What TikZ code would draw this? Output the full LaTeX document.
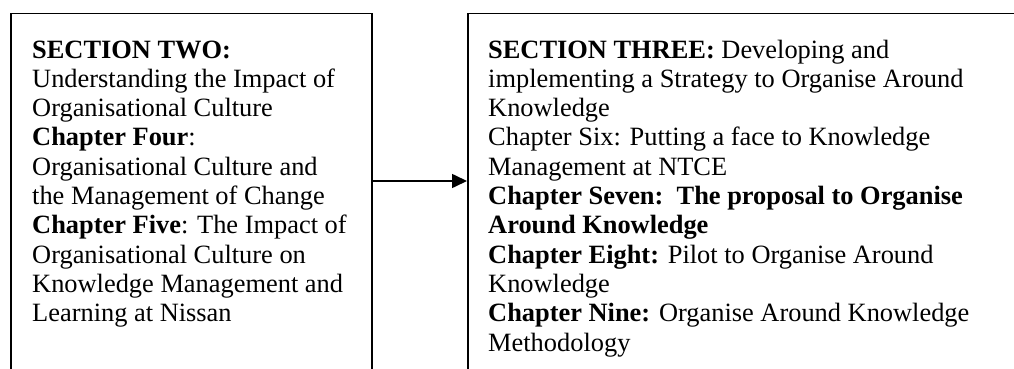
\documentclass[tikz,border=0pt]{standalone}
\usepackage{fontspec}
\setmainfont{Liberation Serif}
\usetikzlibrary{arrows.meta}

\tikzset{
  framebox/.style={draw=black, line width=1.6pt, rectangle, inner sep=0pt, anchor=north west},
  bodytext/.style={anchor=base west, inner sep=0pt, font=\fontsize{26.4}{29.3}\selectfont},
  flow/.style={line width=1.6pt, -{Triangle[length=15pt,width=14pt]}}
}

\begin{document}
\begin{tikzpicture}[x=1pt,y=1pt]
  \useasboundingbox (0,0) rectangle (1014,368);

  % section frames (both run past the lower edge, the right one past the right edge)
  \node[framebox, minimum width=361pt, minimum height=380pt] (secTwo) at (10,355.3) {};
  \node[framebox, minimum width=620pt, minimum height=380pt] (secThree) at (467,355.3) {};

  % section two contents
  \node[bodytext] (secTwoText) at (32,310) {\parbox[t]{330pt}{\raggedright
    \textbf{SECTION TWO:}\\
    Understanding the Impact of\\
    Organisational Culture\\
    \textbf{Chapter Four}:\\
    Organisational Culture and\\
    the Management of Change\\
    \textbf{Chapter Five}: The Impact of\\
    Organisational Culture on\\
    Knowledge Management and\\
    Learning at Nissan}};

  % section three contents
  \node[bodytext] (secThreeText) at (488,310) {\parbox[t]{520pt}{\raggedright
    \textbf{SECTION THREE:} Developing and\\
    implementing a Strategy to Organise Around\\
    Knowledge\\
    Chapter Six: Putting a face to Knowledge\\
    Management at NTCE\\
    \textbf{Chapter Seven:\ \ The proposal to Organise}\\
    \textbf{Around Knowledge}\\
    \textbf{Chapter Eight:} Pilot to Organise Around\\
    Knowledge\\
    \textbf{Chapter Nine:} Organise Around Knowledge\\
    Methodology}};

  % link between the sections
  \draw[flow] (secTwo.east |- 0,187) -- (secThree.west |- 0,187);
\end{tikzpicture}
\end{document}
